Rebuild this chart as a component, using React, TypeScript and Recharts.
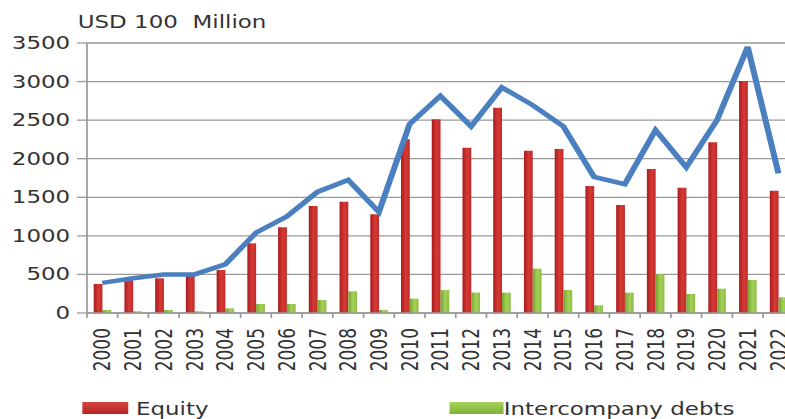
import React from 'react';
import { ComposedChart, Bar, Line, XAxis, YAxis, CartesianGrid, Legend } from 'recharts';

const years = ['2000', '2001', '2002', '2003', '2004', '2005', '2006', '2007', '2008', '2009', '2010', '2011', '2012', '2013', '2014', '2015', '2016', '2017', '2018', '2019', '2020', '2021', '2022'];
const equity = [376, 440, 450, 480, 557, 903, 1110, 1387, 1443, 1279, 2251, 2511, 2143, 2662, 2104, 2126, 1646, 1400, 1867, 1625, 2213, 3007, 1586];
const debts = [39, 22, 39, 22, 60, 117, 117, 168, 281, 39, 186, 298, 264, 264, 575, 298, 99, 264, 501, 246, 315, 428, 203];
const total = [390, 450, 500, 500, 630, 1040, 1250, 1570, 1725, 1310, 2450, 2815, 2420, 2925, 2695, 2420, 1765, 1670, 2370, 1890, 2500, 3450, 1810];
const yTicks = [0, 500, 1000, 1500, 2000, 2500, 3000, 3500];
const unitLabel = 'USD 100  Million';
const seriesNames = { equity: 'Equity', debts: 'Intercompany debts' };

const data = years.map((year, i) => ({ year, equity: equity[i], debts: debts[i], total: total[i] }));

const SX = 1.35;
const W = 588;
const H = 422;
const FONT = 'DejaVu Sans, Verdana, sans-serif';
const GRID = '#9a9a9a';
const TEXT = '#333333';

const XTick = (props: any) => {
  const { x, y, payload } = props;
  const half = payload && typeof payload.offset === 'number' ? payload.offset : 11.37;
  const bx = x + 6;
  const by = y + 15;
  return (
    <g>
      <line x1={x - half} x2={x - half} y1={y} y2={y + 5} stroke={GRID} strokeWidth={1.3} />
      <text x={bx} y={by} transform={`rotate(-90 ${bx} ${by})`} textAnchor="end" fill={TEXT} fontSize={17} fontFamily={FONT}>
        {payload.value}
      </text>
    </g>
  );
};

const LegendContent = () => (
  <div style={{ position: 'relative', width: W, height: 22, fontFamily: FONT, fontSize: 17, color: TEXT, lineHeight: '22px' }}>
    <div style={{ position: 'absolute', left: 60.7, top: 2, width: 34.3, height: 12, background: 'linear-gradient(to bottom, #d4443c, #b82526)' }} />
    <div style={{ position: 'absolute', left: 100.7, top: -2.5, whiteSpace: 'pre' }}>{seriesNames.equity}</div>
    <div style={{ position: 'absolute', left: 333.3, top: 2, width: 39.3, height: 12, background: 'linear-gradient(to bottom, #a6d25a, #7fb238)' }} />
    <div style={{ position: 'absolute', left: 373.2, top: -2.5, whiteSpace: 'pre' }}>{seriesNames.debts}</div>
  </div>
);

export default function App() {
  return (
    <div style={{ position: 'fixed', left: 0, top: 0, width: 785, height: 419, overflow: 'hidden', background: '#ffffff' }}>
      <div style={{ position: 'relative', width: W, height: H, transform: `scaleX(${SX})`, transformOrigin: '0 0', fontFamily: FONT }}>
        <div style={{ position: 'absolute', left: 57.6, top: 12, fontSize: 17, lineHeight: '20px', color: TEXT, whiteSpace: 'pre', zIndex: 2 }}>
          {unitLabel}
        </div>
        <ComposedChart width={W} height={H} data={data} margin={{ top: 43, right: 0, left: 0, bottom: 0 }} barGap={0}>
          <defs>
            <linearGradient id="gRed" x1="0" y1="0" x2="1" y2="0">
              <stop offset="0%" stopColor="#a81c1f" />
              <stop offset="55%" stopColor="#d63a34" />
              <stop offset="100%" stopColor="#c02a2a" />
            </linearGradient>
            <linearGradient id="gGreen" x1="0" y1="0" x2="1" y2="0">
              <stop offset="0%" stopColor="#74a432" />
              <stop offset="55%" stopColor="#a5d158" />
              <stop offset="100%" stopColor="#8cbd44" />
            </linearGradient>
          </defs>
          <CartesianGrid vertical={false} stroke={GRID} strokeWidth={1.3} />
          <XAxis
            dataKey="year"
            interval={0}
            height={87}
            tickSize={0}
            tickMargin={0}
            tickLine={false}
            axisLine={{ stroke: GRID, strokeWidth: 1.3 }}
            tick={<XTick />}
          />
          <YAxis
            width={64.4}
            domain={[0, 3500]}
            ticks={yTicks}
            interval={0}
            tickSize={7.4}
            tickMargin={5}
            axisLine={{ stroke: GRID, strokeWidth: 1.3 }}
            tickLine={{ stroke: GRID, strokeWidth: 1.3 }}
            tick={{ fill: TEXT, fontSize: 17, fontFamily: FONT }}
          />
          <Legend verticalAlign="bottom" height={22} content={<LegendContent />} />
          <Bar dataKey="equity" name={seriesNames.equity} barSize={6.5} fill="url(#gRed)" isAnimationActive={false} />
          <Bar dataKey="debts" name={seriesNames.debts} barSize={6.5} fill="url(#gGreen)" isAnimationActive={false} />
          <Line
            type="linear"
            dataKey="total"
            stroke="#4a7fc0"
            strokeWidth={4.5}
            dot={false}
            activeDot={false}
            legendType="none"
            isAnimationActive={false}
          />
        </ComposedChart>
      </div>
    </div>
  );
}
